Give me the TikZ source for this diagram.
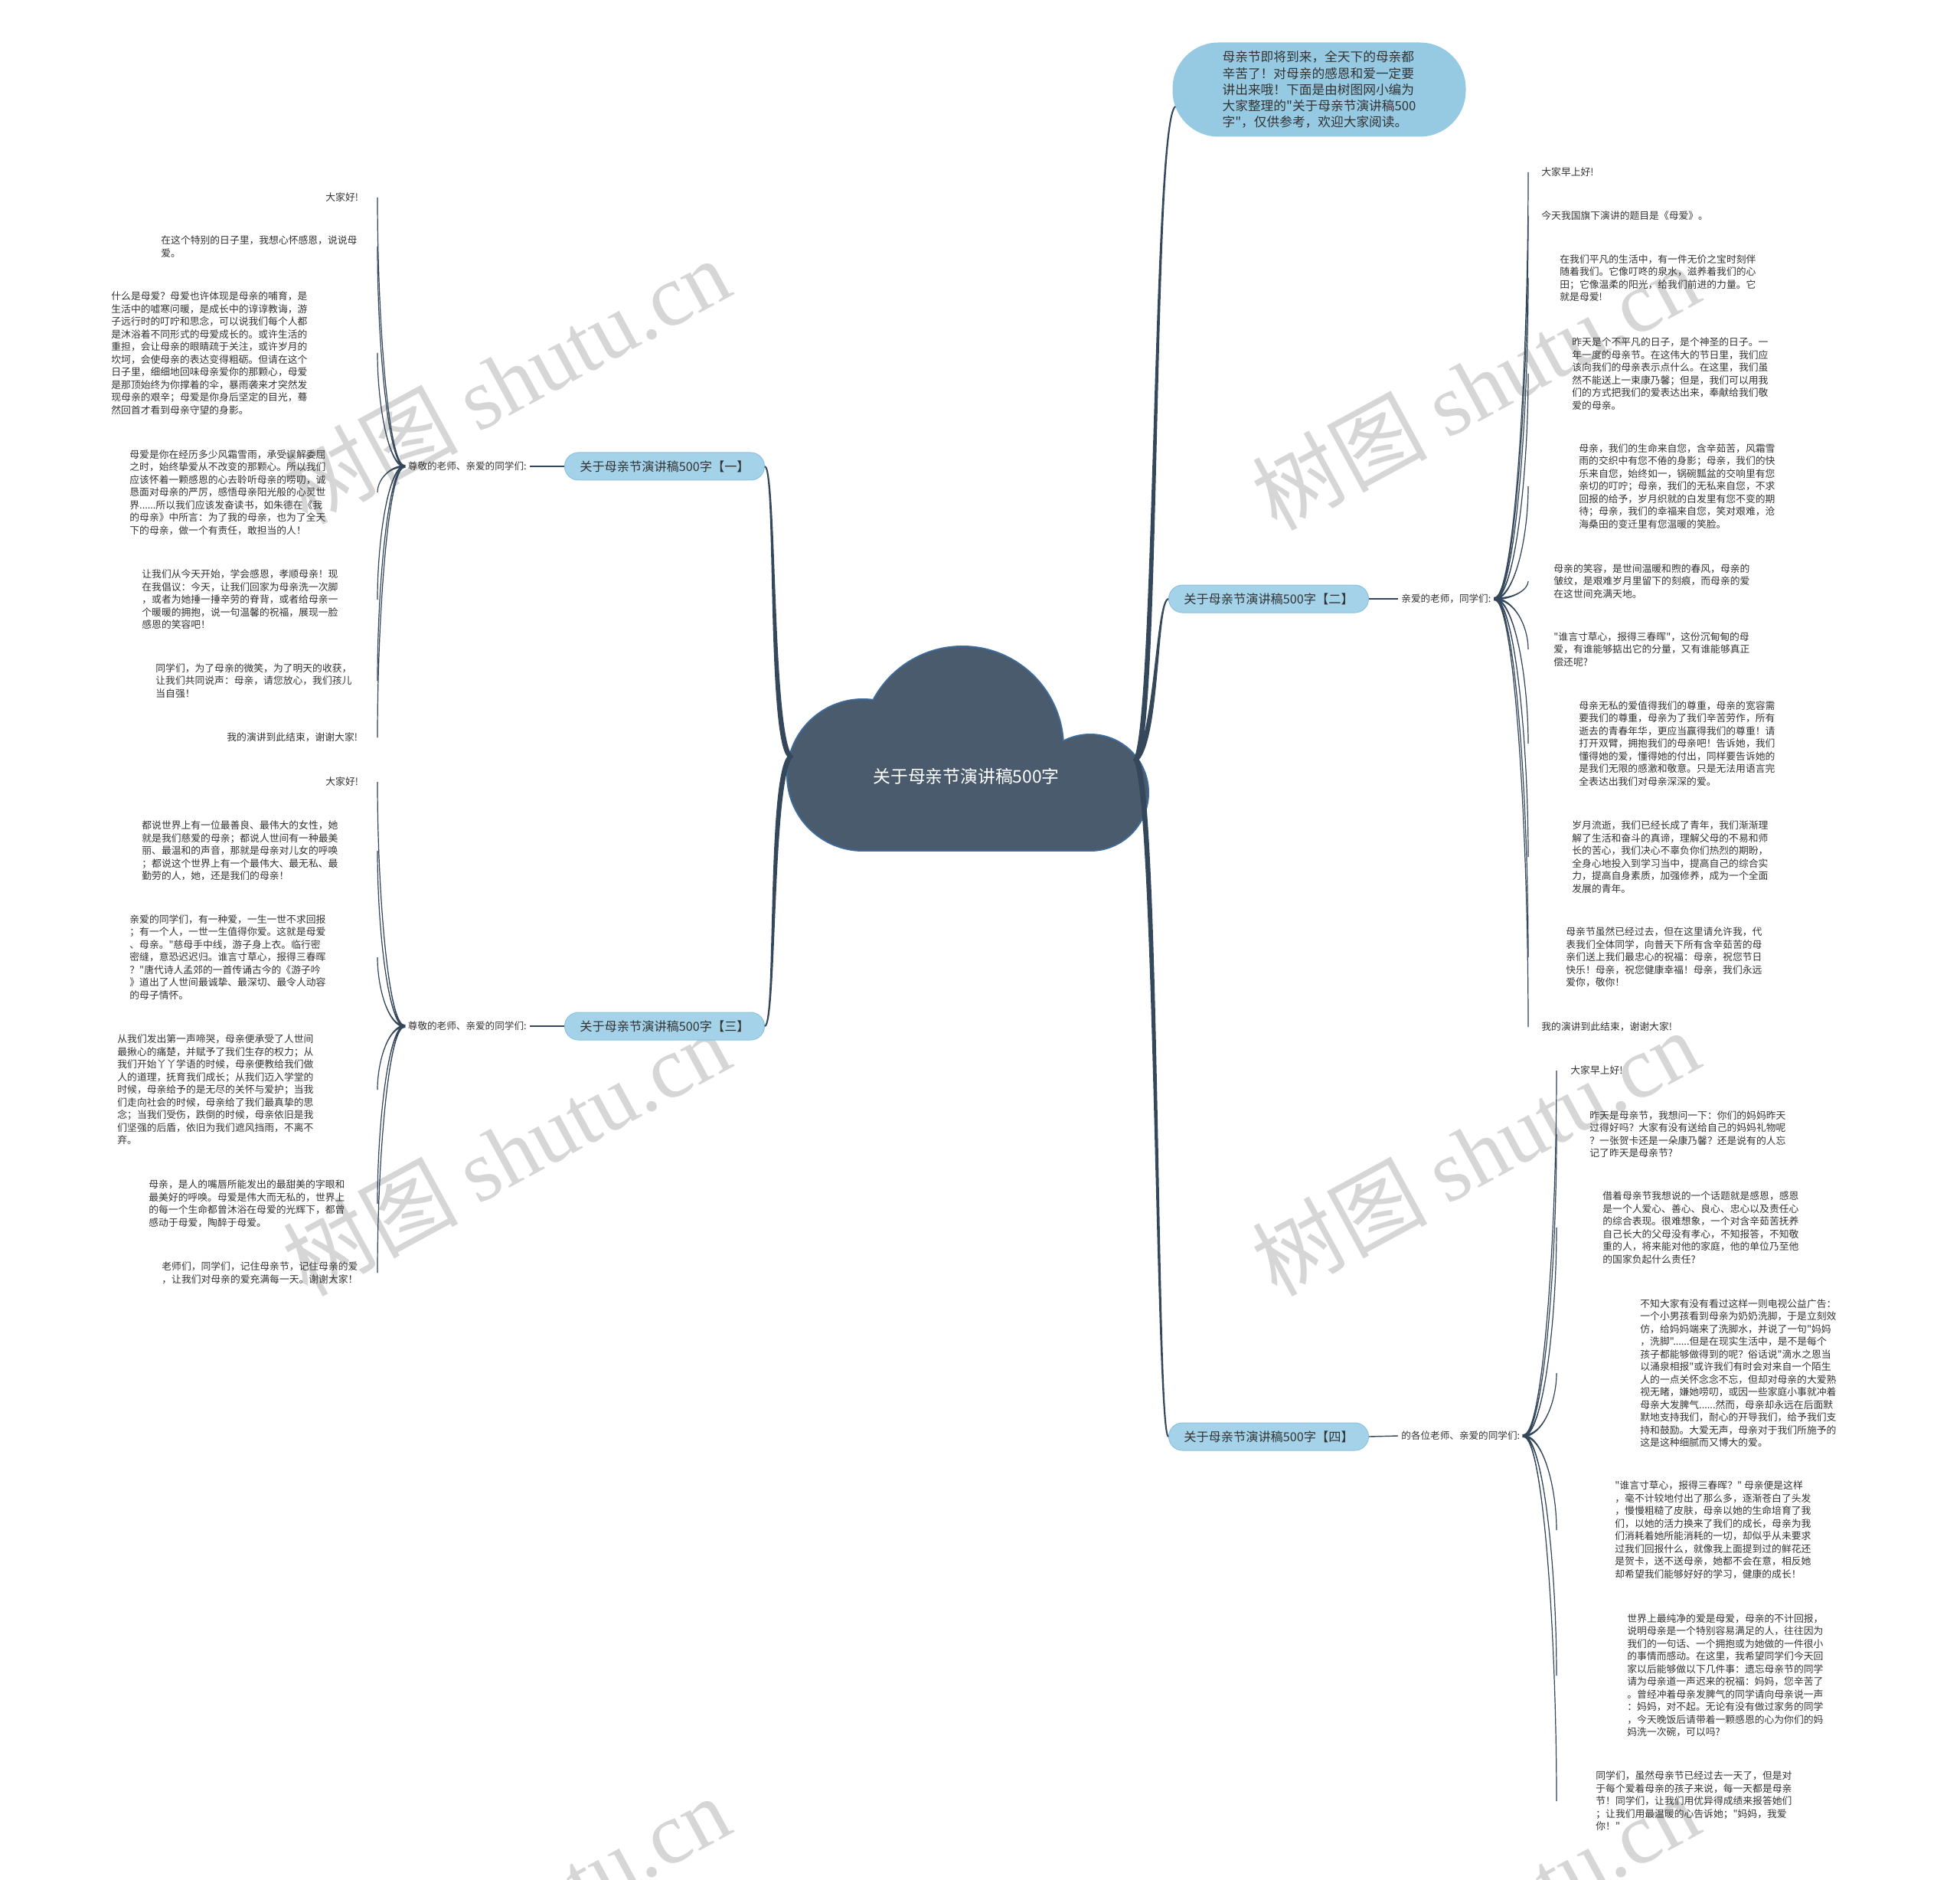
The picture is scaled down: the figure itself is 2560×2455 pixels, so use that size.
\documentclass[tikz,border=0pt]{standalone}
\usepackage{fontspec}
\setmainfont{Noto Sans CJK SC}
\newfontfamily\cjk{Noto Sans CJK SC}
\newfontfamily\wmserif{Liberation Serif}
\usetikzlibrary{calc}
\definecolor{cloudfill}{HTML}{4A5B6E}
\definecolor{cloudedge}{HTML}{3F6B98}
\definecolor{branchfill}{HTML}{A3D2E9}
\definecolor{branchedge}{HTML}{8CC3DF}
\definecolor{bubblefill}{HTML}{96CAE3}
\definecolor{conn}{HTML}{34475B}
\definecolor{txt}{HTML}{333333}
\definecolor{wmgray}{HTML}{D6D6D6}
\tikzset{
  leaftext/.style={anchor=west, inner sep=0pt, align=left, text=txt,
    font=\cjk\fontsize{6.4pt}{8.25pt}\selectfont},
  hublabel/.style={inner xsep=2pt, inner ysep=0pt, text=txt,
    font=\cjk\fontsize{6.3pt}{8pt}\selectfont},
  branchbox/.style={draw=branchedge, line width=0.5pt, fill=branchfill,
    rounded corners=9pt, minimum width=130.5pt, minimum height=18pt,
    inner sep=0pt, text=txt, font=\cjk\fontsize{8.1pt}{10pt}\selectfont},
  bubblebox/.style={fill=bubblefill, rounded corners=30pt,
    minimum width=191.5pt, minimum height=61.5pt, inner sep=0pt,
    align=left, text=txt, font=\cjk\fontsize{8.35pt}{10.6pt}\selectfont},
  roottext/.style={text=white, inner sep=0pt, font=\cjk\fontsize{11.4pt}{14pt}\selectfont},
  connline/.style={fill=conn, draw=conn, line width=0.6pt},
  trunkline/.style={fill=conn, draw=conn, line width=1pt},
  shortline/.style={draw=conn, line width=0.7pt},
  wm/.style={text=wmgray, inner sep=0pt, font=\cjk\fontsize{57pt}{60pt}\selectfont}
}
% tapered leaf connector: #1 hub anchor, #2 leaf node, #3 x-line coordinate
\newcommand\mmleaf[3]{%
  \filldraw[connline] ($(#1)+(0,1.3)$) .. controls ($(#1)!0.6!(#1 -| #3)$) and ($(#2 -| #3)!0.45!(#1 -| #3)$) .. (#2 -| #3)
    .. controls ($(#2 -| #3)!0.45!(#1 -| #3)$) and ($(#1)!0.6!(#1 -| #3)$) .. ($(#1)-(0,1.3)$) -- cycle;}
% tapered trunk: #1 start, #2 c1, #3 c2, #4 end, #5 half width vector
\newcommand\mmtrunk[5]{%
  \filldraw[trunkline] ($(#1)+(#5)$) .. controls ($(#2)+(#5)$) and (#3) .. (#4)
    .. controls (#3) and ($(#2)-(#5)$) .. ($(#1)-(#5)$) -- cycle;}
\begin{document}
\begin{tikzpicture}[x=0.5pt,y=-0.5pt]
\clip (0,0) rectangle (2560,2455);
\fill[white] (0,0) rectangle (2560,2455);

% watermarks
\node[wm, rotate=28.5] (wm1) at (661,497) {树图 {\wmserif shutu.cn}};
\node[wm, rotate=28.5] (wm2) at (1927,505) {树图 {\wmserif shutu.cn}};
\node[wm, rotate=28.5] (wm3) at (661,1505) {树图 {\wmserif shutu.cn}};
\node[wm, rotate=28.5] (wm4) at (1927,1505) {树图 {\wmserif shutu.cn}};
\node[wm, rotate=28.5] (wm5) at (661,2505) {树图 {\wmserif shutu.cn}};
\node[wm, rotate=28.5] (wm6) at (1927,2505) {树图 {\wmserif shutu.cn}};

% cloud
\begin{scope}
\draw[cloudedge, line width=2pt] (1127,1012) circle (98);
\draw[cloudedge, line width=2pt] (1257,976) circle (131);
\draw[cloudedge, line width=2pt] (1424,1035) circle (75);
\draw[cloudedge, line width=2pt] (1127,1000) rectangle (1424,1110);
\fill[cloudfill] (1127,1012) circle (98);
\fill[cloudfill] (1257,976) circle (131);
\fill[cloudfill] (1424,1035) circle (75);
\fill[cloudfill] (1127,1000) rectangle (1424,1110);
\end{scope}
\node[roottext] (root) at (1262,1014) {关于母亲节演讲稿500字};
\coordinate (rootW) at (1032,988);
\coordinate (rootE) at (1484,992);

% intro bubble
\node[bubblebox] (intro) at (1723,117) {母亲节即将到来，全天下的母亲都\\辛苦了！对母亲的感恩和爱一定要\\讲出来哦！下面是由树图网小编为\\大家整理的"关于母亲节演讲稿500\\字"，仅供参考，欢迎大家阅读。};
\coordinate (introIn) at ($(intro.west)+(4,22)$);

% branch nodes
\node[branchbox] (b1) at (868,609) {关于母亲节演讲稿500字【一】};
\node[branchbox] (b2) at (1657,782) {关于母亲节演讲稿500字【二】};
\node[branchbox] (b3) at (868,1340) {关于母亲节演讲稿500字【三】};
\node[branchbox] (b4) at (1657,1876) {关于母亲节演讲稿500字【四】};

% hub labels
\node[hublabel, anchor=east] (h1) at (692,609) {尊敬的老师、亲爱的同学们:};
\node[hublabel, anchor=west] (h2) at (1826,782) {亲爱的老师，同学们:};
\node[hublabel, anchor=east] (h3) at (692,1340) {尊敬的老师、亲爱的同学们:};
\node[hublabel, anchor=west] (h4) at (1826,1875) {的各位老师、亲爱的同学们:};

\coordinate (lxL) at (493,0);
\coordinate (lxR2) at (1996,0);
\coordinate (lxR4) at (2033,0);

% trunks
\mmtrunk{rootW}{1005,960}{1014,612}{b1.east}{2.5,0}
\mmtrunk{rootW}{1005,1020}{1014,1337}{b3.east}{2.5,0}
\mmtrunk{rootE}{1512,940}{1506,160}{introIn}{2.5,0}
\mmtrunk{rootE}{1512,960}{1510,785}{b2.west}{2.5,0}
\mmtrunk{rootE}{1512,1040}{1510,1872}{b4.west}{2.5,0}

\draw[shortline] (b1.west) -- (h1.east);
\draw[shortline] (b2.east) -- (h2.west);
\draw[shortline] (b3.west) -- (h3.east);
\draw[shortline] (b4.east) -- (h4.west);

% ---------- leaves [一] ----------
\node[leaftext] (L1) at (425,258) {大家好!};
\node[leaftext] (L2) at (210,322) {在这个特别的日子里，我想心怀感恩，说说母\\爱。};
\node[leaftext] (L3) at (145,461) {什么是母爱？母爱也许体现是母亲的哺育，是\\生活中的嘘寒问暖，是成长中的谆谆教诲，游\\子远行时的叮咛和思念，可以说我们每个人都\\是沐浴着不同形式的母爱成长的。或许生活的\\重担，会让母亲的眼睛疏于关注，或许岁月的\\坎坷，会使母亲的表达变得粗砺。但请在这个\\日子里，细细地回味母亲爱你的那颗心，母爱\\是那顶始终为你撑着的伞，暴雨袭来才突然发\\现母亲的艰辛；母爱是你身后坚定的目光，蓦\\然回首才看到母亲守望的身影。};
\node[leaftext] (L4) at (169,643) {母爱是你在经历多少风霜雪雨，承受误解委屈\\之时，始终挚爱从不改变的那颗心。所以我们\\应该怀着一颗感恩的心去聆听母亲的唠叨，诚\\恳面对母亲的严厉，感悟母亲阳光般的心灵世\\界......所以我们应该发奋读书，如朱德在《我\\的母亲》中所言：为了我的母亲，也为了全天\\下的母亲，做一个有责任，敢担当的人！};
\node[leaftext] (L5) at (185,783) {让我们从今天开始，学会感恩，孝顺母亲！现\\在我倡议：今天，让我们回家为母亲洗一次脚\\，或者为她捶一捶辛劳的脊背，或者给母亲一\\个暖暖的拥抱，说一句温馨的祝福，展现一脸\\感恩的笑容吧！};
\node[leaftext] (L6) at (203,889) {同学们，为了母亲的微笑，为了明天的收获，\\让我们共同说声：母亲，请您放心，我们孩儿\\当自强！};
\node[leaftext] (L7) at (296,963) {我的演讲到此结束，谢谢大家!};
\foreach \n in {L1,L2,L3,L4,L5,L6,L7} {\mmleaf{h1.west}{\n}{lxL}}

% ---------- leaves [三] ----------
\node[leaftext] (T1) at (425,1021) {大家好!};
\node[leaftext] (T2) at (185,1111) {都说世界上有一位最善良、最伟大的女性，她\\就是我们慈爱的母亲；都说人世间有一种最美\\丽、最温和的声音，那就是母亲对儿女的呼唤\\；都说这个世界上有一个最伟大、最无私、最\\勤劳的人，她，还是我们的母亲！};
\node[leaftext] (T3) at (169,1250) {亲爱的同学们，有一种爱，一生一世不求回报\\；有一个人，一世一生值得你爱。这就是母爱\\、母亲。"慈母手中线，游子身上衣。临行密\\密缝，意恐迟迟归。谁言寸草心，报得三春晖\\？"唐代诗人孟郊的一首传诵古今的《游子吟\\》道出了人世间最诚挚、最深切、最令人动容\\的母子情怀。};
\node[leaftext] (T4) at (153,1423) {从我们发出第一声啼哭，母亲便承受了人世间\\最揪心的痛楚，并赋予了我们生存的权力；从\\我们开始丫丫学语的时候，母亲便教给我们做\\人的道理，抚育我们成长；从我们迈入学堂的\\时候，母亲给予的是无尽的关怀与爱护；当我\\们走向社会的时候，母亲给了我们最真挚的思\\念；当我们受伤，跌倒的时候，母亲依旧是我\\们坚强的后盾，依旧为我们遮风挡雨，不离不\\弃。};
\node[leaftext] (T5) at (194,1572) {母亲，是人的嘴唇所能发出的最甜美的字眼和\\最美好的呼唤。母爱是伟大而无私的，世界上\\的每一个生命都曾沐浴在母爱的光辉下，都曾\\感动于母爱，陶醉于母爱。};
\node[leaftext] (T6) at (211,1662) {老师们，同学们，记住母亲节，记住母亲的爱\\，让我们对母亲的爱充满每一天。谢谢大家！};
\foreach \n in {T1,T2,T3,T4,T5,T6} {\mmleaf{h3.west}{\n}{lxL}}

% ---------- leaves [二] ----------
\node[leaftext] (R1) at (2013,225) {大家早上好!};
\node[leaftext] (R2) at (2013,282) {今天我国旗下演讲的题目是《母爱》。};
\node[leaftext] (R3) at (2037,363) {在我们平凡的生活中，有一件无价之宝时刻伴\\随着我们。它像叮咚的泉水，滋养着我们的心\\田；它像温柔的阳光，给我们前进的力量。它\\就是母爱!};
\node[leaftext] (R4) at (2053,488) {昨天是个不平凡的日子，是个神圣的日子。一\\年一度的母亲节。在这伟大的节日里，我们应\\该向我们的母亲表示点什么。在这里，我们虽\\然不能送上一束康乃馨；但是，我们可以用我\\们的方式把我们的爱表达出来，奉献给我们敬\\爱的母亲。};
\node[leaftext] (R5) at (2062,635) {母亲，我们的生命来自您，含辛茹苦，风霜雪\\雨的交织中有您不倦的身影；母亲，我们的快\\乐来自您，始终如一，锅碗瓢盆的交响里有您\\亲切的叮咛；母亲，我们的无私来自您，不求\\回报的给予，岁月织就的白发里有您不变的期\\待；母亲，我们的幸福来自您，笑对艰难，沧\\海桑田的变迁里有您温暖的笑脸。};
\node[leaftext] (R6) at (2029,759) {母亲的笑容，是世间温暖和煦的春风，母亲的\\皱纹，是艰难岁月里留下的刻痕，而母亲的爱\\在这世间充满天地。};
\node[leaftext] (R7) at (2029,848) {"谁言寸草心，报得三春晖"，这份沉甸甸的母\\爱，有谁能够掂出它的分量，又有谁能够真正\\偿还呢?};
\node[leaftext] (R8) at (2062,971) {母亲无私的爱值得我们的尊重，母亲的宽容需\\要我们的尊重，母亲为了我们辛苦劳作，所有\\逝去的青春年华，更应当赢得我们的尊重！请\\打开双臂，拥抱我们的母亲吧！告诉她，我们\\懂得她的爱，懂得她的付出，同样要告诉她的\\是我们无限的感激和敬意。只是无法用语言完\\全表达出我们对母亲深深的爱。};
\node[leaftext] (R9) at (2053,1119) {岁月流逝，我们已经长成了青年，我们渐渐理\\解了生活和奋斗的真谛，理解父母的不易和师\\长的苦心，我们决心不辜负你们热烈的期盼，\\全身心地投入到学习当中，提高自己的综合实\\力，提高自身素质，加强修养，成为一个全面\\发展的青年。};
\node[leaftext] (R10) at (2045,1250) {母亲节虽然已经过去，但在这里请允许我，代\\表我们全体同学，向普天下所有含辛茹苦的母\\亲们送上我们最忠心的祝福：母亲，祝您节日\\快乐！母亲，祝您健康幸福！母亲，我们永远\\爱你，敬你！};
\node[leaftext] (R11) at (2013,1341) {我的演讲到此结束，谢谢大家!};
\foreach \n in {R1,R2,R3,R4,R5,R6,R7,R8,R9,R10,R11} {\mmleaf{h2.east}{\n}{lxR2}}

% ---------- leaves [四] ----------
\node[leaftext] (F1) at (2051,1398) {大家早上好!};
\node[leaftext] (F2) at (2076,1481) {昨天是母亲节，我想问一下：你们的妈妈昨天\\过得好吗？大家有没有送给自己的妈妈礼物呢\\？一张贺卡还是一朵康乃馨？还是说有的人忘\\记了昨天是母亲节?};
\node[leaftext] (F3) at (2093,1603) {借着母亲节我想说的一个话题就是感恩，感恩\\是一个人爱心、善心、良心、忠心以及责任心\\的综合表现。很难想象，一个对含辛茹苦抚养\\自己长大的父母没有孝心，不知报答，不知敬\\重的人，将来能对他的家庭，他的单位乃至他\\的国家负起什么责任?};
\node[leaftext] (F4) at (2142,1793) {不知大家有没有看过这样一则电视公益广告：\\一个小男孩看到母亲为奶奶洗脚，于是立刻效\\仿，给妈妈端来了洗脚水，并说了一句"妈妈\\，洗脚"......但是在现实生活中，是不是每个\\孩子都能够做得到的呢？俗话说"滴水之恩当\\以涌泉相报"或许我们有时会对来自一个陌生\\人的一点关怀念念不忘，但却对母亲的大爱熟\\视无睹，嫌她唠叨，或因一些家庭小事就冲着\\母亲大发脾气......然而，母亲却永远在后面默\\默地支持我们，耐心的开导我们，给予我们支\\持和鼓励。大爱无声，母亲对于我们所施予的\\这是这种细腻而又博大的爱。};
\node[leaftext] (F5) at (2109,1998) {"谁言寸草心，报得三春晖？" 母亲便是这样\\，毫不计较地付出了那么多，逐渐苍白了头发\\，慢慢粗糙了皮肤，母亲以她的生命培育了我\\们，以她的活力换来了我们的成长，母亲为我\\们消耗着她所能消耗的一切，却似乎从未要求\\过我们回报什么，就像我上面提到过的鲜花还\\是贺卡，送不送母亲，她都不会在意，相反她\\却希望我们能够好好的学习，健康的成长！};
\node[leaftext] (F6) at (2125,2188) {世界上最纯净的爱是母爱，母亲的不计回报，\\说明母亲是一个特别容易满足的人，往往因为\\我们的一句话、一个拥抱或为她做的一件很小\\的事情而感动。在这里，我希望同学们今天回\\家以后能够做以下几件事：遗忘母亲节的同学\\请为母亲道一声迟来的祝福：妈妈，您辛苦了\\。曾经冲着母亲发脾气的同学请向母亲说一声\\：妈妈，对不起。无论有没有做过家务的同学\\，今天晚饭后请带着一颗感恩的心为你们的妈\\妈洗一次碗，可以吗?};
\node[leaftext] (F7) at (2084,2352) {同学们，虽然母亲节已经过去一天了，但是对\\于每个爱着母亲的孩子来说，每一天都是母亲\\节！同学们，让我们用优异得成绩来报答她们\\；让我们用最温暖的心告诉她；"妈妈，我爱\\你！"};
\foreach \n in {F1,F2,F3,F4,F5,F6,F7} {\mmleaf{h4.east}{\n}{lxR4}}
\end{tikzpicture}
\end{document}
